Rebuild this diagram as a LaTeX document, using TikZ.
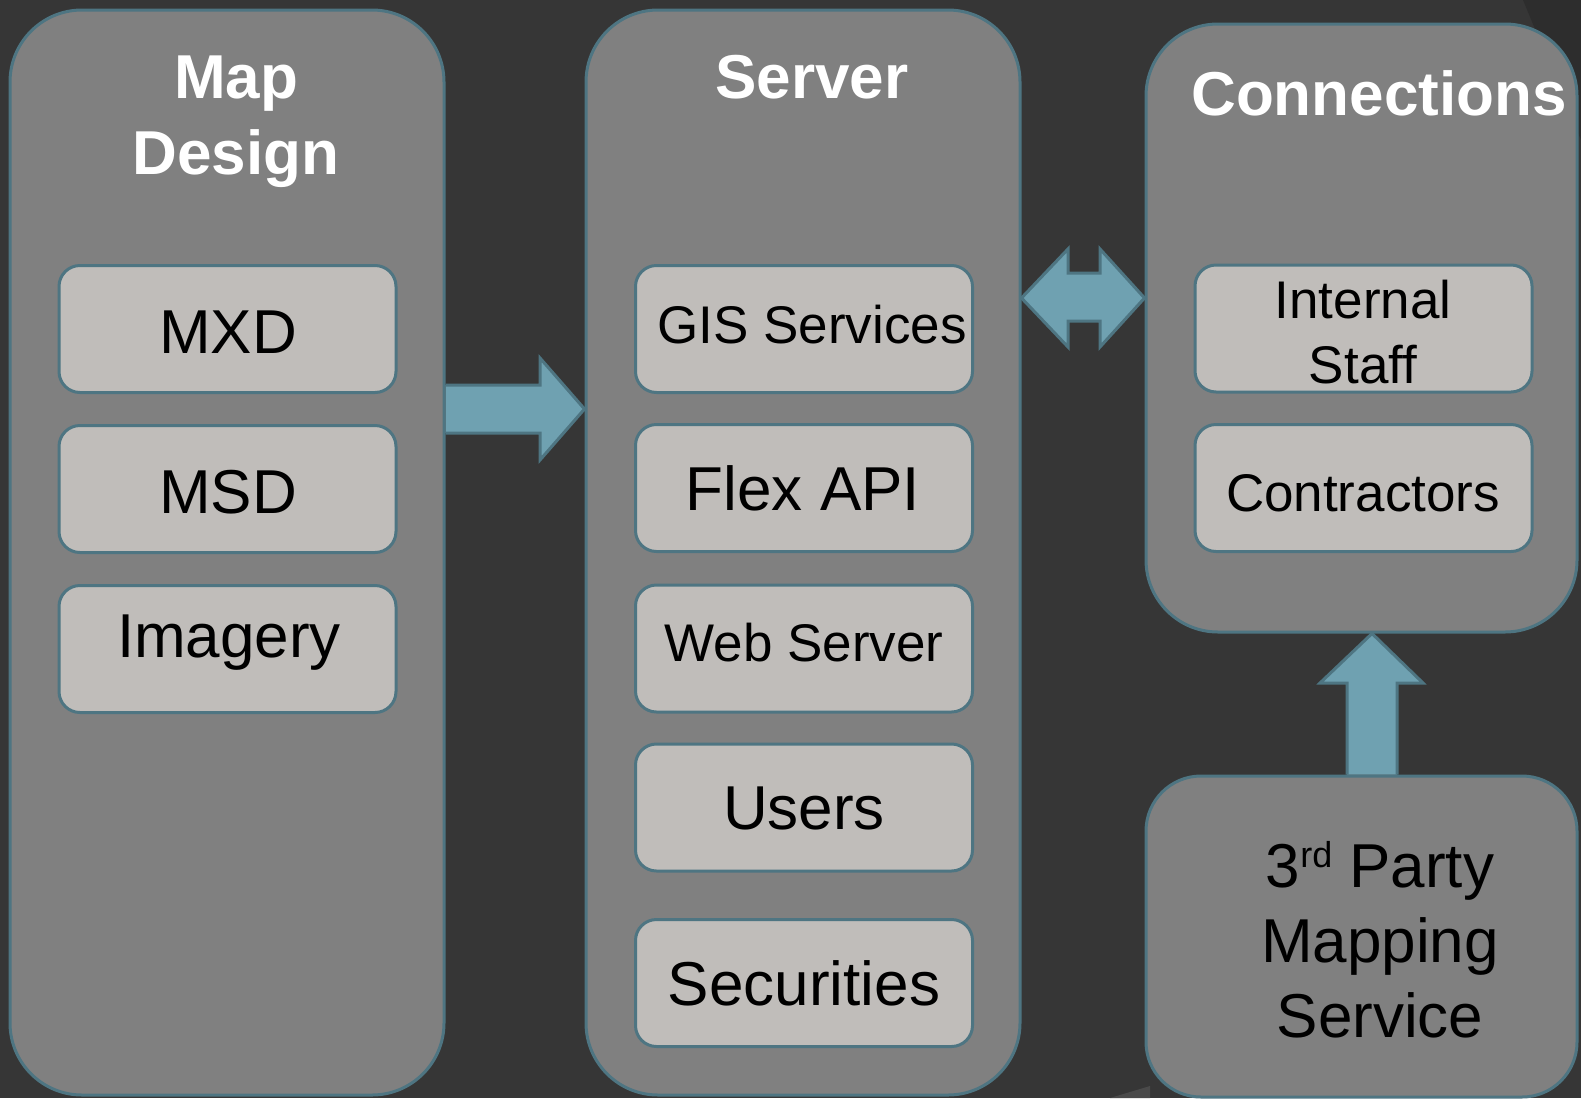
\documentclass[tikz,border=0pt]{standalone}
\usepackage{fontspec}
\setmainfont{Liberation Sans}
\definecolor{bgc}{HTML}{363636}
\definecolor{bgdark}{HTML}{2D2D2D}
\definecolor{bglight}{HTML}{4A4A4A}
\definecolor{boxc}{HTML}{808080}
\definecolor{innerc}{HTML}{C0BDBA}
\definecolor{edgec}{HTML}{4E7582}
\definecolor{arrowc}{HTML}{6FA1B1}
\begin{document}
\begin{tikzpicture}[x=1pt,y=-1pt,
  bigbox/.style={draw=edgec, line width=3pt, fill=boxc, rounded corners=72pt, inner sep=0pt},
  smallbox/.style={draw=edgec, line width=3pt, fill=innerc, rounded corners=21pt,
    minimum width=337pt, minimum height=127pt, inner sep=0pt},
  titletext/.style={font=\fontsize{62}{74}\selectfont\bfseries, text=white, anchor=base, inner sep=0pt},
  bigtext/.style={font=\fontsize{62}{74}\selectfont, text=black, anchor=base, inner sep=0pt},
  smalltext/.style={font=\fontsize{53}{64}\selectfont, text=black, anchor=base, inner sep=0pt},
  blockarrow/.style={draw=edgec, line width=3pt, fill=arrowc, line join=miter}]

% background
\fill[bgc] (0,0) rectangle (1581,1098);
\useasboundingbox (0,0) rectangle (1581,1098);
\fill[bgdark] (1523,0) -- (1581,0) -- (1581,140) -- cycle;
\fill[bglight] (1110,1098) -- (1150,1086) -- (1150,1098) -- cycle;

% big containers
\node[bigbox, minimum width=434pt, minimum height=1085pt] (map) at (227,552.5) {};
\node[bigbox, minimum width=434pt, minimum height=1085pt] (server) at (803,552.5) {};
\node[bigbox, minimum width=431pt, minimum height=608pt] (conn) at (1361.5,328) {};
\node[bigbox, rounded corners=55pt, minimum width=431pt, minimum height=321pt] (party) at (1361.5,936.5) {};

% titles
\node[titletext] (tmap) at (236,98) {Map};
\node[titletext] (tdesign) at (236,174) {Design};
\node[titletext] (tserver) at (812,98) {Server};
\node[titletext] (tconn) at (1379,115) {Connections};

% map design items
\node[smallbox] (mxd) at (227.5,329) {};
\node[smallbox] (msd) at (227.5,489) {};
\node[smallbox] (img) at (227.5,649) {};
\node[bigtext] (tmxd) at (228,353) {MXD};
\node[bigtext] (tmsd) at (228,513) {MSD};
\node[bigtext] (timg) at (229,657) {Imagery};

% server items
\node[smallbox] (gis) at (804,329) {};
\node[smallbox] (flex) at (804,488) {};
\node[smallbox] (web) at (804,648.5) {};
\node[smallbox] (users) at (804,807.5) {};
\node[smallbox] (sec) at (804,983) {};
\node[smalltext] (tgis) at (812,343) {GIS Services};
\node[bigtext] (tflex) at (803,510) {Flex API};
\node[smalltext] (tweb) at (804,661) {Web Server};
\node[bigtext] (tusers) at (804,829) {Users};
\node[bigtext] (tsec) at (804,1005) {Securities};

% connections items
\node[smallbox] (staff) at (1363.5,328.5) {};
\node[smallbox] (contr) at (1363.5,488) {};
\node[smalltext] (tint) at (1363,318) {Internal};
\node[smalltext] (tstaff) at (1363,383) {Staff};
\node[smalltext] (tcontr) at (1363,511) {Contractors};

% third party
\node[bigtext] (tp1) at (1380,887) {3\raisebox{20pt}{\fontsize{36}{36}\selectfont rd} Party};
\node[bigtext] (tp2) at (1380,962) {Mapping};
\node[bigtext] (tp3) at (1380,1037) {Service};

% block arrows
\draw[blockarrow] (map.east |- 0,385) -- (540,385) -- (540,358) -- (server.west |- 0,409)
  -- (540,460) -- (540,433) -- (map.east |- 0,433);
\draw[blockarrow] (server.east |- 0,298) -- (1068,249) -- (1068,273) -- (1100,273) -- (1100,249)
  -- (conn.west |- 0,298) -- (1100,347) -- (1100,321) -- (1068,321) -- (1068,347) -- cycle;
\draw[blockarrow] (1347,0 |- party.north) -- (1347,683) -- (1320,683) -- (1372,0 |- conn.south)
  -- (1423,683) -- (1397,683) -- (1397,0 |- party.north);
\end{tikzpicture}
\end{document}
